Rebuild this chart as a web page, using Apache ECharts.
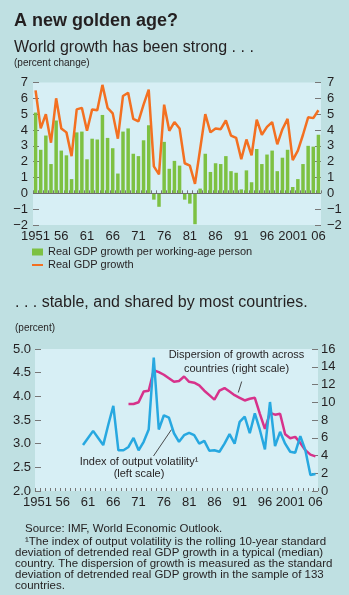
<!DOCTYPE html>
<html><head><meta charset="utf-8">
<script src="https://cdn.jsdelivr.net/npm/echarts@6/dist/echarts.min.js"></script>
<style>html,body{margin:0;padding:0;background:#bfe0e2;}#c{width:349px;height:595px;}</style>
</head><body><div id="c"></div>
<script>
const years = ['1951','1952','1953','1954','1955','1956','1957','1958','1959','1960',
'1961','1962','1963','1964','1965','1966','1967','1968','1969','1970',
'1971','1972','1973','1974','1975','1976','1977','1978','1979','1980',
'1981','1982','1983','1984','1985','1986','1987','1988','1989','1990',
'1991','1992','1993','1994','1995','1996','1997','1998','1999','2000',
'2001','2002','2003','2004','2005','2006'];

const perWorkerGrowth = [5.1,2.75,3.65,1.85,4.6,2.7,2.4,0.9,3.85,3.9,
2.15,3.45,3.4,4.95,3.5,2.85,1.25,3.9,4.1,2.5,
2.35,3.35,4.3,-0.4,-0.85,3.25,1.55,2.05,1.75,-0.4,
-0.65,-1.95,0.3,2.5,1.35,1.9,1.85,2.35,1.4,1.3,
0.25,1.45,0.7,2.8,1.85,2.45,2.7,1.4,2.25,2.75,
0.4,0.9,1.85,3.0,2.95,3.7];

const gdpGrowth = [6.5,4.1,5.0,3.2,6.0,4.1,3.85,2.35,5.3,5.4,
3.95,5.3,5.25,6.85,5.4,5.05,3.45,6.15,6.35,4.7,
4.55,5.6,6.55,1.7,1.2,5.6,3.95,4.5,4.1,1.9,
1.75,0.6,2.8,5.0,3.85,4.1,4.05,4.6,3.65,3.5,
2.15,3.4,2.4,4.65,3.7,4.2,4.5,3.1,4.05,4.7,
2.1,2.7,3.7,4.8,4.75,5.25];

const volatilityStart = '1960';
const volatility = [2.97,3.12,3.27,3.12,2.97,3.4,3.8,2.86,2.86,2.93,
3.12,2.86,3.04,3.3,4.82,3.3,3.6,3.55,3.22,3.04,
3.18,3.23,3.18,3.0,3.06,2.85,2.86,2.83,3.0,3.2,
3.0,3.46,3.57,3.22,3.64,3.29,2.88,3.88,2.95,3.25,
3.0,2.83,2.81,3.16,2.86,2.34,2.36];

const dispersionStart = '1969';
const dispersion = [9.8,9.8,10.0,11.2,11.3,13.6,13.4,13.1,12.7,12.3,
12.4,12.9,12.3,12.2,11.9,11.3,10.8,10.3,11.3,11.6,
11.2,10.8,10.5,10.2,10.4,10.5,8.7,7.0,8.8,8.6,
8.7,6.4,5.95,6.1,5.4,4.6,4.1,3.9];

const footnotes = [
  'Source: IMF, World Economic Outlook.',
  '\u00B9The index of output volatility is the rolling 10-year standard',
  'deviation of detrended real GDP growth in a typical (median)',
  'country. The dispersion of growth is measured as the standard',
  'deviation of detrended real GDP growth in the sample of 133',
  'countries.'
];

function pad(startYear, arr){
  const off = years.indexOf(startYear);
  return years.map((y,i)=> i<off ? null : arr[i-off]);
}

const TXT = '#231f20';
const FF = '"Liberation Sans", Arial, sans-serif';
const GREEN = '#7dc142', ORANGE = '#f37021', BLUE = '#27a8e0', PINK = '#d7328b';
const PLOTBG = '#d7eff5';

function xAxisCfg(grid){
  return {
    type:'category', gridIndex:grid, data:years, boundaryGap:true,
    axisLine:{show:false},
    axisTick:{show:true, inside:true, length:3, interval:0, lineStyle:{color:'#777', width:1}},
    axisLabel:{interval:4, margin:5, fontSize:13, color:TXT, fontFamily:FF,
      formatter:(v)=> (v==='1951'||v==='2001') ? v : v.slice(2)},
    splitLine:{show:false}
  };
}
function yAxisCfg(grid, pos, min, max, interval, fmt, margin){
  return {
    type:'value', gridIndex:grid, position:pos, min:min, max:max, interval:interval,
    axisLine:{show:false},
    axisTick:{show:true, inside:true, length:6, lineStyle:{color:'#777', width:1}},
    axisLabel:{margin:margin, fontSize:13, color:TXT, fontFamily:FF, formatter:fmt},
    splitLine:{show:false}
  };
}
const minusFmt = (v)=> v<0 ? '\u2212'+Math.abs(v) : String(v);

function txt(text, x, y, size, opts){
  opts = opts || {};
  return {type:'text', silent:true, style:{text:text, x:x, y:y,
    font:(opts.weight||'normal')+' '+size+'px '+FF, fill:TXT,
    textAlign:opts.align||'left', align:opts.align||'left',
    textVerticalAlign:'middle', verticalAlign:'middle'}};
}

const graphics = [
  txt('A new golden age?', 14, 21, 18, {weight:'bold'}),
  txt('World growth has been strong . . .', 14, 48, 16),
  txt('(percent change)', 14, 63, 10),
  txt('. . . stable, and shared by most countries.', 15, 303, 16),
  txt('(percent)', 15, 328, 10),
  txt('Dispersion of growth across', 236.5, 355, 11, {align:'center'}),
  txt('countries (right scale)', 236.5, 369, 11, {align:'center'}),
  txt('Index of output volatility\u00B9', 139, 461.5, 11, {align:'center'}),
  txt('(left scale)', 139, 473.5, 11, {align:'center'}),
  {type:'line', silent:true, shape:{x1:241.7,y1:381.5,x2:238.3,y2:392.5}, style:{stroke:'#231f20', lineWidth:0.8}},
  {type:'line', silent:true, shape:{x1:153.5,y1:456,x2:171.5,y2:429.5}, style:{stroke:'#231f20', lineWidth:0.8}}
];
const fnY = [529, 541.7, 552.5, 563.5, 574.5, 585.5];
const fnX = [25, 25, 15, 15, 15, 15];
footnotes.forEach((t,i)=> graphics.push(txt(t, fnX[i], fnY[i], 11.5)));

const chart = echarts.init(document.getElementById('c'), null, {renderer:'canvas'});
chart.setOption({
  animation:false,
  backgroundColor:'#bfe0e2',
  textStyle:{fontFamily:FF},
  grid:[
    {left:33, right:28, top:82.5, height:142.5, show:true, backgroundColor:PLOTBG, borderWidth:0},
    {left:35, right:31, top:349, height:142, show:true, backgroundColor:PLOTBG, borderWidth:0}
  ],
  xAxis:[xAxisCfg(0), xAxisCfg(1)],
  yAxis:[
    yAxisCfg(0,'left',-2,7,1,minusFmt,5),
    yAxisCfg(0,'right',-2,7,1,minusFmt,6),
    yAxisCfg(1,'left',2,5,0.5,(v)=>v.toFixed(1),4),
    yAxisCfg(1,'right',0,16,2,(v)=>String(v),3)
  ],
  legend:[
    {data:['Real GDP growth per working-age person'], left:32, top:246.5, orient:'vertical',
     icon:'rect', itemWidth:11, itemHeight:7, padding:0, textStyle:{fontSize:11, color:TXT, fontFamily:FF}},
    {data:['Real GDP growth'], left:32, top:259.5, orient:'vertical',
     icon:'rect', itemWidth:11, itemHeight:2, padding:0, textStyle:{fontSize:11, color:TXT, fontFamily:FF}}
  ],
  graphic:graphics,
  series:[
    {name:'Real GDP growth per working-age person', type:'bar', xAxisIndex:0, yAxisIndex:0,
     data:perWorkerGrowth, barWidth:'68%', itemStyle:{color:GREEN},
     markLine:{silent:true, symbol:['none','none'], label:{show:false},
       lineStyle:{color:'#6d6d6d', width:1, type:'solid'}, data:[{yAxis:0}]}},
    {name:'Real GDP growth', type:'line', xAxisIndex:0, yAxisIndex:0, data:gdpGrowth,
     symbol:'none', lineStyle:{color:ORANGE, width:2.5}, itemStyle:{color:ORANGE}, z:5},
    {name:'Dispersion', type:'line', xAxisIndex:1, yAxisIndex:3, data:pad(dispersionStart, dispersion),
     symbol:'none', lineStyle:{color:PINK, width:2.5}, itemStyle:{color:PINK}, z:4},
    {name:'Volatility', type:'line', xAxisIndex:1, yAxisIndex:2, data:pad(volatilityStart, volatility),
     symbol:'none', lineStyle:{color:BLUE, width:2.5}, itemStyle:{color:BLUE}, z:5}
  ]
});
</script>
</body></html>
